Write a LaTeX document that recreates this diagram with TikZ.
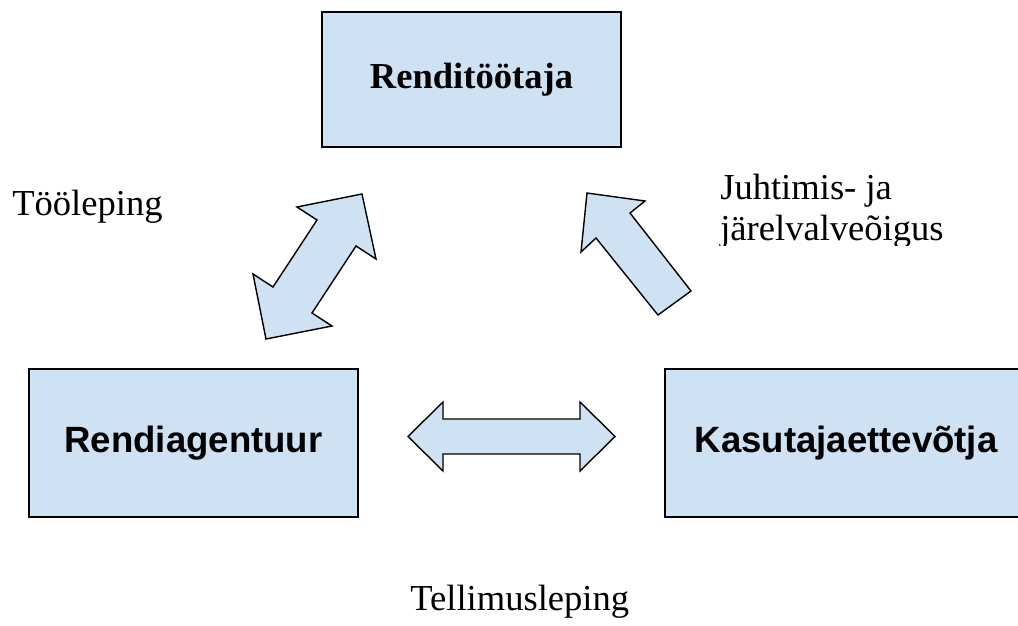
\documentclass[tikz,border=0pt]{standalone}
\usepackage{fontspec}
\setmainfont{Liberation Serif}
\setsansfont{Liberation Sans}
\definecolor{partybg}{HTML}{CFE2F3}

\tikzset{
  party/.style={draw, line width=1.1pt, fill=partybg, inner sep=0pt},
  blockarrow/.style={draw, line width=1pt, fill=partybg},
  lbl/.style={font=\fontsize{26}{30}\selectfont, inner sep=0pt},
}

\begin{document}
\begin{tikzpicture}[x=0.025cm, y=-0.025cm]
  \clip (0,0) rectangle (1018,625);

  % Three parties
  \node[party, minimum width=7.475cm, minimum height=3.375cm,
        font=\fontsize{26}{30}\selectfont\bfseries] (worker) at (471.5, 79.5) {Renditöötaja};
  \node[party, minimum width=8.225cm, minimum height=3.7cm,
        font=\fontsize{26}{30}\selectfont\sffamily\bfseries] (agency) at (193.5, 443) {Rendiagentuur};
  \node[party, minimum width=9.05cm, minimum height=3.7cm,
        font=\fontsize{26}{30}\selectfont\sffamily\bfseries] (client) at (846, 443) {Kasutajaettevõtja};

  % Block arrow agency <-> worker
  \draw[blockarrow] (362, 194) -- (376, 259) -- (356, 246) -- (312, 313) -- (332, 326)
    -- (266, 339) -- (253, 274) -- (273, 287) -- (317, 220) -- (297, 207) -- cycle;

  % Block arrow client -> worker
  \draw[blockarrow] (587, 193) -- (645, 201) -- (630, 213) -- (691, 291)
    -- (658, 315) -- (596, 238) -- (581, 252) -- cycle;

  % Block arrow agency <-> client
  \draw[blockarrow] (408, 436.5) -- (443, 402) -- (443, 419) -- (580, 419) -- (580, 402)
    -- (615, 436.5) -- (580, 471) -- (580, 454) -- (443, 454) -- (443, 471) -- cycle;

  % Labels
  \node[lbl, anchor=base west] (worklbl) at (12, 215) {Tööleping};
  \node[lbl, anchor=base west] (ctrllbl1) at (720, 199) {Juhtimis- ja};
  \begin{scope}
    \clip (700, 205) rectangle (1018, 245);
    \node[lbl, anchor=base west] (ctrllbl2) at (720, 240) {järelvalveõigus};
  \end{scope}
  \node[lbl, anchor=base west] (orderlbl) at (410, 610) {Tellimusleping};
\end{tikzpicture}
\end{document}
